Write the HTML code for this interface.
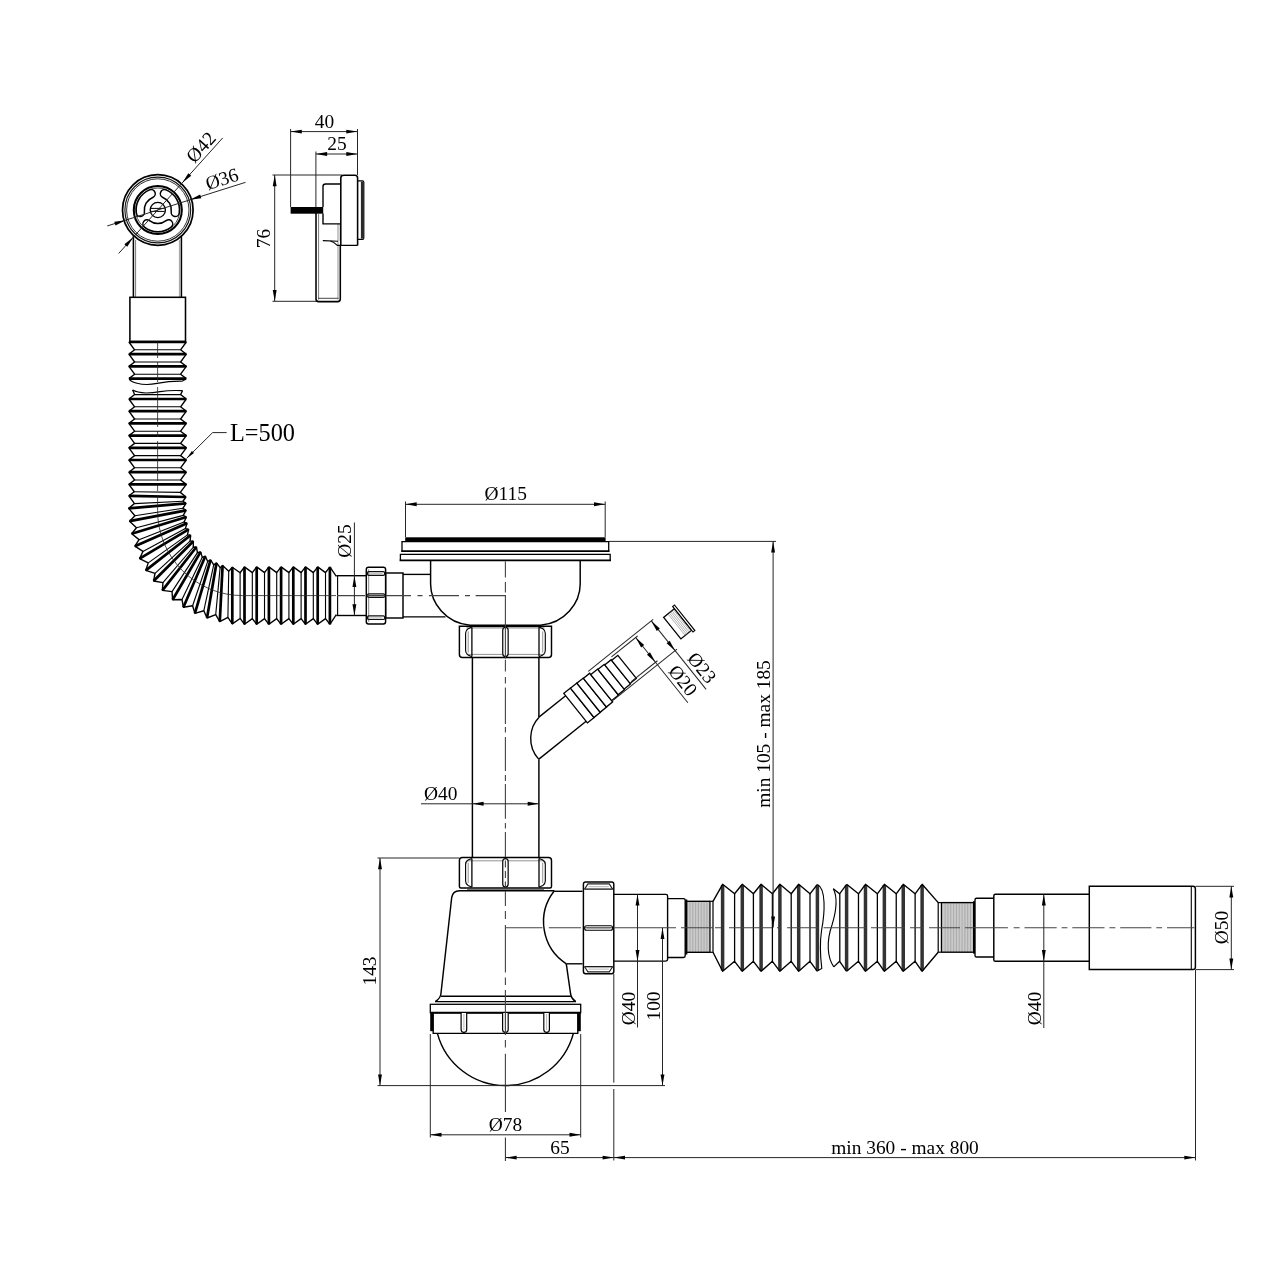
<!DOCTYPE html>
<html lang="en">
<head>
<meta charset="utf-8">
<title>Technical drawing</title>
<style>
html,body{margin:0;padding:0;background:#fff;}
body{width:1280px;height:1280px;overflow:hidden;}
svg{display:block;filter:grayscale(1);}
svg text{font-family:"Liberation Serif",serif;fill:#000;}
</style>
</head>
<body>
<svg width="1280" height="1280" viewBox="0 0 1280 1280">
<rect x="0" y="0" width="1280" height="1280" fill="#ffffff"/>
<line x1="133.4" y1="236" x2="133.4" y2="297.3" stroke="#000" stroke-width="1.55" />
<line x1="135.6" y1="240" x2="135.6" y2="297.3" stroke="#555" stroke-width="0.8" />
<line x1="179.4" y1="240" x2="179.4" y2="297.3" stroke="#888" stroke-width="0.8" />
<line x1="181.4" y1="236" x2="181.4" y2="297.3" stroke="#000" stroke-width="1.55" />
<circle cx="157.8" cy="210" r="35.3" stroke="#000" stroke-width="1.72" fill="#fff"/>
<circle cx="157.8" cy="210" r="32.9" stroke="#111" stroke-width="1.12" fill="none"/>
<circle cx="157.8" cy="210" r="31.2" stroke="#333" stroke-width="1" fill="none"/>
<circle cx="157.8" cy="210" r="24" stroke="#000" stroke-width="2.06" fill="none"/>
<circle cx="157.8" cy="210" r="22" stroke="#333" stroke-width="0.9" fill="none"/>
<path d="M175.23 212.45 A17.6 17.6 0 0 0 164.39 193.68" stroke="#000" stroke-width="9.6" fill="none" stroke-linecap="round"/>
<path d="M175.23 212.45 A17.6 17.6 0 0 0 164.39 193.68" stroke="#fff" stroke-width="6.6" fill="none" stroke-linecap="round"/>
<path d="M151.21 193.68 A17.6 17.6 0 0 0 140.37 212.45" stroke="#000" stroke-width="9.6" fill="none" stroke-linecap="round"/>
<path d="M151.21 193.68 A17.6 17.6 0 0 0 140.37 212.45" stroke="#fff" stroke-width="6.6" fill="none" stroke-linecap="round"/>
<path d="M146.96 223.87 A17.6 17.6 0 0 0 168.64 223.87" stroke="#000" stroke-width="9.6" fill="none" stroke-linecap="round"/>
<path d="M146.96 223.87 A17.6 17.6 0 0 0 168.64 223.87" stroke="#fff" stroke-width="6.6" fill="none" stroke-linecap="round"/>
<circle cx="157.8" cy="210" r="7.6" stroke="#000" stroke-width="1.38" fill="none"/>
<line x1="151" y1="208.4" x2="164.6" y2="208.4" stroke="#000" stroke-width="1" />
<line x1="151" y1="211.4" x2="164.6" y2="211.4" stroke="#000" stroke-width="1" />
<rect x="129.9" y="297.3" width="55.6" height="44.2" rx="0" stroke="#000" stroke-width="1.55" fill="#fff" />
<line x1="118.66" y1="253.47" x2="222.71" y2="137.91" stroke="#262626" stroke-width="1" />
<polygon points="182.29,182.8 188.34,173.17 191.23,175.78" fill="#000"/>
<polygon points="133.31,237.2 127.26,246.83 124.37,244.22" fill="#000"/>
<text x="205.72" y="151.55" font-size="19.4" text-anchor="middle" transform="rotate(-48 205.72 151.55)" >Ø42</text>
<line x1="107.25" y1="225.94" x2="245.54" y2="182.34" stroke="#262626" stroke-width="1" />
<polygon points="190.04,199.84 200.13,194.61 201.3,198.33" fill="#000"/>
<polygon points="125.56,220.16 115.47,225.39 114.3,221.67" fill="#000"/>
<text x="223.89" y="185.18" font-size="19.4" text-anchor="middle" transform="rotate(-17.5 223.89 185.18)" >Ø36</text>
<line x1="290.6" y1="129" x2="290.6" y2="207" stroke="#262626" stroke-width="1" />
<line x1="357.5" y1="129" x2="357.5" y2="175" stroke="#262626" stroke-width="1" />
<line x1="290.6" y1="131.6" x2="357.5" y2="131.6" stroke="#262626" stroke-width="1" />
<polygon points="290.6,131.6 301.8,129.65 301.8,133.55" fill="#000"/>
<polygon points="357.5,131.6 346.3,133.55 346.3,129.65" fill="#000"/>
<text x="324.5" y="127.5" font-size="19.4" text-anchor="middle" >40</text>
<line x1="315.9" y1="151.5" x2="315.9" y2="213" stroke="#262626" stroke-width="1" />
<line x1="315.9" y1="154" x2="357.5" y2="154" stroke="#262626" stroke-width="1" />
<polygon points="315.9,154 327.1,152.05 327.1,155.95" fill="#000"/>
<polygon points="357.5,154 346.3,155.95 346.3,152.05" fill="#000"/>
<text x="337" y="150" font-size="19.4" text-anchor="middle" >25</text>
<line x1="272.5" y1="175" x2="342" y2="175" stroke="#262626" stroke-width="1" />
<line x1="272.5" y1="301.3" x2="318" y2="301.3" stroke="#262626" stroke-width="1" />
<line x1="274.7" y1="175" x2="274.7" y2="301.3" stroke="#262626" stroke-width="1" />
<polygon points="274.7,175 276.65,186.2 272.75,186.2" fill="#000"/>
<polygon points="274.7,301.3 272.75,290.1 276.65,290.1" fill="#000"/>
<text x="270" y="238.5" font-size="19.4" text-anchor="middle" transform="rotate(-90 270 238.5)" >76</text>
<path d="M316 213 L316 299 Q316 301.6 318.6 301.6 L337.6 301.6 Q340.3 301.6 340.3 299 L340.3 245.6" stroke="#000" stroke-width="1.55" fill="none" />
<line x1="318.6" y1="214" x2="318.6" y2="299.5" stroke="#555" stroke-width="0.8" />
<line x1="338" y1="224" x2="338" y2="299.5" stroke="#777" stroke-width="0.8" />
<line x1="318" y1="298.3" x2="338.5" y2="298.3" stroke="#333" stroke-width="0.9" />
<rect x="290.6" y="207" width="32.6" height="6.7" rx="0" stroke="#000" stroke-width="0" fill="#000" />
<path d="M323 207 L323 186.5 Q323 184 325.5 184 L340.6 184" stroke="#000" stroke-width="1.38" fill="none" />
<path d="M323 213.5 L323 223.9 L340.3 223.9" stroke="#000" stroke-width="1.38" fill="none" />
<line x1="340.3" y1="224" x2="340.3" y2="241" stroke="#333" stroke-width="1" />
<path d="M322.8 240.6 L338 241.2" stroke="#000" stroke-width="1.12" fill="none" />
<path d="M330.5 241 Q334 242 337.3 245.4 L357.6 245.4" stroke="#000" stroke-width="1.2" fill="none" />
<path d="M340.8 245.4 L340.8 178 Q340.8 175.2 343.8 175.2 L355 175.2 Q357.6 175.2 357.6 178 L357.6 245.4" stroke="#000" stroke-width="1.55" fill="none" />
<path d="M357.6 180.8 L362.5 180.8 Q363.8 180.8 363.8 182.3 L363.8 238 Q363.8 239.4 362.5 239.4 L357.6 239.4" stroke="#000" stroke-width="1.2" fill="none" />
<line x1="362.3" y1="181.6" x2="362.3" y2="238.6" stroke="#2a2a2a" stroke-width="2.8" />
<line x1="128.9" y1="342" x2="186.3" y2="342" stroke="#000" stroke-width="2.7" />
<line x1="134.6" y1="349.81" x2="180.6" y2="349.81" stroke="#000" stroke-width="1.12" />
<line x1="128.9" y1="354.2" x2="186.3" y2="354.2" stroke="#000" stroke-width="2.7" />
<line x1="134.6" y1="362.01" x2="180.6" y2="362.01" stroke="#000" stroke-width="1.12" />
<line x1="128.9" y1="366.4" x2="186.3" y2="366.4" stroke="#000" stroke-width="2.7" />
<line x1="134.6" y1="374.21" x2="180.6" y2="374.21" stroke="#000" stroke-width="1.12" />
<line x1="128.9" y1="378.6" x2="186.3" y2="378.6" stroke="#000" stroke-width="2.7" />
<path d="M128.9 342 L134.6 349.81 L128.9 354.2 L134.6 362.01 L128.9 366.4 L134.6 374.21 L128.9 378.6" stroke="#000" stroke-width="1.38" fill="none" stroke-linejoin="round"/>
<path d="M186.3 342 L180.6 349.81 L186.3 354.2 L180.6 362.01 L186.3 366.4 L180.6 374.21 L186.3 378.6" stroke="#000" stroke-width="1.38" fill="none" stroke-linejoin="round"/>
<path d="M129.3 379.3 Q131 381.6 137 383.2 Q146 385.6 157 383.4 Q170 381 182 381.2 L185.8 379.2" stroke="#000" stroke-width="1.12" fill="none" />
<path d="M132.6 390 Q137 392.5 146 393 Q153 393 160 391.6 Q170 390 182.5 390.6" stroke="#000" stroke-width="1.12" fill="none" />
<path d="M132.6 390 L134.6 394.6 L128.9 399" stroke="#000" stroke-width="1.29" fill="none" />
<path d="M182.5 390.6 L180.6 394.6 L186.3 399" stroke="#000" stroke-width="1.29" fill="none" />
<line x1="134.6" y1="394.6" x2="180.6" y2="394.6" stroke="#000" stroke-width="1.1" />
<line x1="128.9" y1="399" x2="186.3" y2="399" stroke="#000" stroke-width="2.7" />
<line x1="134.6" y1="406.81" x2="180.6" y2="406.81" stroke="#000" stroke-width="1.12" />
<line x1="128.9" y1="411.2" x2="186.3" y2="411.2" stroke="#000" stroke-width="2.7" />
<line x1="134.6" y1="419.01" x2="180.6" y2="419.01" stroke="#000" stroke-width="1.12" />
<line x1="128.9" y1="423.4" x2="186.3" y2="423.4" stroke="#000" stroke-width="2.7" />
<line x1="134.6" y1="431.21" x2="180.6" y2="431.21" stroke="#000" stroke-width="1.12" />
<line x1="128.9" y1="435.6" x2="186.3" y2="435.6" stroke="#000" stroke-width="2.7" />
<line x1="134.6" y1="443.41" x2="180.6" y2="443.41" stroke="#000" stroke-width="1.12" />
<line x1="128.9" y1="447.8" x2="186.3" y2="447.8" stroke="#000" stroke-width="2.7" />
<line x1="134.6" y1="455.61" x2="180.6" y2="455.61" stroke="#000" stroke-width="1.12" />
<line x1="128.9" y1="460" x2="186.3" y2="460" stroke="#000" stroke-width="2.7" />
<line x1="134.6" y1="467.81" x2="180.6" y2="467.81" stroke="#000" stroke-width="1.12" />
<line x1="128.9" y1="472.2" x2="186.3" y2="472.2" stroke="#000" stroke-width="2.7" />
<line x1="134.6" y1="480.01" x2="180.6" y2="480.01" stroke="#000" stroke-width="1.12" />
<line x1="128.9" y1="484.4" x2="186.3" y2="484.4" stroke="#000" stroke-width="2.7" />
<line x1="134.26" y1="491.77" x2="180.34" y2="492.39" stroke="#000" stroke-width="1.12" />
<line x1="128.9" y1="495.8" x2="185.9" y2="497" stroke="#000" stroke-width="2.7" />
<line x1="134.47" y1="503.59" x2="182.96" y2="501.24" stroke="#000" stroke-width="1.12" />
<line x1="128.7" y1="508.4" x2="186" y2="503.4" stroke="#000" stroke-width="2.7" />
<line x1="134.91" y1="515.72" x2="182.86" y2="508.31" stroke="#000" stroke-width="1.12" />
<line x1="129.6" y1="521.2" x2="186.1" y2="510.3" stroke="#000" stroke-width="2.7" />
<line x1="136.45" y1="527.8" x2="183.25" y2="515.4" stroke="#000" stroke-width="1.12" />
<line x1="131.7" y1="533.8" x2="186.4" y2="517" stroke="#000" stroke-width="2.7" />
<line x1="139.06" y1="539.66" x2="184.06" y2="522.04" stroke="#000" stroke-width="1.12" />
<line x1="134.9" y1="546.2" x2="187" y2="523.2" stroke="#000" stroke-width="2.7" />
<line x1="142.93" y1="551.43" x2="185.37" y2="528.59" stroke="#000" stroke-width="1.12" />
<line x1="139.6" y1="558.6" x2="188.6" y2="529.4" stroke="#000" stroke-width="2.7" />
<line x1="148.21" y1="562.85" x2="187.49" y2="534.87" stroke="#000" stroke-width="1.12" />
<line x1="145.8" y1="570.4" x2="190.6" y2="535.3" stroke="#000" stroke-width="2.7" />
<line x1="154.99" y1="573.33" x2="190.08" y2="541.14" stroke="#000" stroke-width="1.12" />
<line x1="153.6" y1="581" x2="193.3" y2="541.2" stroke="#000" stroke-width="2.7" />
<line x1="162.94" y1="582.69" x2="193.27" y2="547.26" stroke="#000" stroke-width="1.12" />
<line x1="162.4" y1="590.4" x2="196.4" y2="547" stroke="#000" stroke-width="2.7" />
<line x1="172.04" y1="591.64" x2="197.43" y2="552.68" stroke="#000" stroke-width="1.12" />
<line x1="172.6" y1="599.8" x2="200.6" y2="551.9" stroke="#000" stroke-width="2.7" />
<line x1="181.99" y1="599.47" x2="202.31" y2="557.35" stroke="#000" stroke-width="1.12" />
<line x1="183.4" y1="607.3" x2="205.3" y2="556.2" stroke="#000" stroke-width="2.7" />
<line x1="192.6" y1="605.75" x2="207.71" y2="561.44" stroke="#000" stroke-width="1.12" />
<line x1="194.9" y1="613.3" x2="210.6" y2="559.9" stroke="#000" stroke-width="2.7" />
<line x1="203.84" y1="610.74" x2="213.72" y2="564.86" stroke="#000" stroke-width="1.12" />
<line x1="207" y1="618" x2="216.5" y2="562.9" stroke="#000" stroke-width="2.7" />
<line x1="215.72" y1="614.63" x2="220.11" y2="567.67" stroke="#000" stroke-width="1.12" />
<line x1="219.8" y1="621.6" x2="222.6" y2="565.5" stroke="#000" stroke-width="2.7" />
<line x1="227.9" y1="617.37" x2="228.73" y2="571.29" stroke="#000" stroke-width="1.12" />
<line x1="232.3" y1="623.9" x2="232.3" y2="567.3" stroke="#000" stroke-width="2.7" />
<line x1="240.11" y1="618.46" x2="240.11" y2="572.74" stroke="#000" stroke-width="1.12" />
<line x1="244.5" y1="624.3" x2="244.5" y2="566.9" stroke="#000" stroke-width="2.7" />
<line x1="252.31" y1="618.6" x2="252.31" y2="572.6" stroke="#000" stroke-width="1.12" />
<line x1="256.7" y1="624.3" x2="256.7" y2="566.9" stroke="#000" stroke-width="2.7" />
<line x1="264.51" y1="618.6" x2="264.51" y2="572.6" stroke="#000" stroke-width="1.12" />
<line x1="268.9" y1="624.3" x2="268.9" y2="566.9" stroke="#000" stroke-width="2.7" />
<line x1="276.71" y1="618.6" x2="276.71" y2="572.6" stroke="#000" stroke-width="1.12" />
<line x1="281.1" y1="624.3" x2="281.1" y2="566.9" stroke="#000" stroke-width="2.7" />
<line x1="288.91" y1="618.6" x2="288.91" y2="572.6" stroke="#000" stroke-width="1.12" />
<line x1="293.3" y1="624.3" x2="293.3" y2="566.9" stroke="#000" stroke-width="2.7" />
<line x1="301.11" y1="618.6" x2="301.11" y2="572.6" stroke="#000" stroke-width="1.12" />
<line x1="305.5" y1="624.3" x2="305.5" y2="566.9" stroke="#000" stroke-width="2.7" />
<line x1="313.31" y1="618.6" x2="313.31" y2="572.6" stroke="#000" stroke-width="1.12" />
<line x1="317.7" y1="624.3" x2="317.7" y2="566.9" stroke="#000" stroke-width="2.7" />
<line x1="325.51" y1="618.6" x2="325.51" y2="572.6" stroke="#000" stroke-width="1.12" />
<line x1="329.9" y1="624.3" x2="329.9" y2="566.9" stroke="#000" stroke-width="2.7" />
<path d="M128.9 399 L134.6 406.81 L128.9 411.2 L134.6 419.01 L128.9 423.4 L134.6 431.21 L128.9 435.6 L134.6 443.41 L128.9 447.8 L134.6 455.61 L128.9 460 L134.6 467.81 L128.9 472.2 L134.6 480.01 L128.9 484.4 L134.26 491.77 L128.9 495.8 L134.47 503.59 L128.7 508.4 L134.91 515.72 L129.6 521.2 L136.45 527.8 L131.7 533.8 L139.06 539.66 L134.9 546.2 L142.93 551.43 L139.6 558.6 L148.21 562.85 L145.8 570.4 L154.99 573.33 L153.6 581 L162.94 582.69 L162.4 590.4 L172.04 591.64 L172.6 599.8 L181.99 599.47 L183.4 607.3 L192.6 605.75 L194.9 613.3 L203.84 610.74 L207 618 L215.72 614.63 L219.8 621.6 L227.9 617.37 L232.3 623.9 L240.11 618.46 L244.5 624.3 L252.31 618.6 L256.7 624.3 L264.51 618.6 L268.9 624.3 L276.71 618.6 L281.1 624.3 L288.91 618.6 L293.3 624.3 L301.11 618.6 L305.5 624.3 L313.31 618.6 L317.7 624.3 L325.51 618.6 L329.9 624.3" stroke="#000" stroke-width="1.38" fill="none" stroke-linejoin="round"/>
<path d="M186.3 399 L180.6 406.81 L186.3 411.2 L180.6 419.01 L186.3 423.4 L180.6 431.21 L186.3 435.6 L180.6 443.41 L186.3 447.8 L180.6 455.61 L186.3 460 L180.6 467.81 L186.3 472.2 L180.6 480.01 L186.3 484.4 L180.34 492.39 L185.9 497 L182.96 501.24 L186 503.4 L182.86 508.31 L186.1 510.3 L183.25 515.4 L186.4 517 L184.06 522.04 L187 523.2 L185.37 528.59 L188.6 529.4 L187.49 534.87 L190.6 535.3 L190.08 541.14 L193.3 541.2 L193.27 547.26 L196.4 547 L197.43 552.68 L200.6 551.9 L202.31 557.35 L205.3 556.2 L207.71 561.44 L210.6 559.9 L213.72 564.86 L216.5 562.9 L220.11 567.67 L222.6 565.5 L228.73 571.29 L232.3 567.3 L240.11 572.74 L244.5 566.9 L252.31 572.6 L256.7 566.9 L264.51 572.6 L268.9 566.9 L276.71 572.6 L281.1 566.9 L288.91 572.6 L293.3 566.9 L301.11 572.6 L305.5 566.9 L313.31 572.6 L317.7 566.9 L325.51 572.6 L329.9 566.9" stroke="#000" stroke-width="1.38" fill="none" stroke-linejoin="round"/>
<path d="M329.9 566.9 L336.3 576.4" stroke="#000" stroke-width="1.29" fill="none" />
<path d="M329.9 624.3 L336.3 614.6" stroke="#000" stroke-width="1.29" fill="none" />
<line x1="157.6" y1="342" x2="157.6" y2="382" stroke="#222" stroke-width="0.8" stroke-dasharray="16 4 22 60"/>
<line x1="157.6" y1="387" x2="157.6" y2="510.6" stroke="#222" stroke-width="0.8" stroke-dasharray="40 4 6 4"/>
<path d="M157.6 510.6 A85.0 85.0 0 0 0 242.6 595.6" stroke="#222" stroke-width="0.8" fill="none" />
<line x1="242.6" y1="595.6" x2="336" y2="595.6" stroke="#222" stroke-width="0.8" />
<line x1="186.6" y1="458.4" x2="212.6" y2="432.6" stroke="#262626" stroke-width="1" />
<line x1="212.6" y1="432.6" x2="226.6" y2="432.6" stroke="#262626" stroke-width="1" />
<polygon points="186.6,458.4 191.9,450.98 194.02,453.1" fill="#000"/>
<text x="230" y="441" font-size="24.3" text-anchor="start" >L=500</text>
<rect x="405.2" y="537.3" width="200.4" height="4.5" fill="#000"/>
<path d="M402 551.2 L402 541.6 L608.7 541.6 L608.7 551.2" stroke="#000" stroke-width="1.29" fill="none" />
<line x1="401.2" y1="551.2" x2="609.5" y2="551.2" stroke="#000" stroke-width="1.72" />
<path d="M400.4 560.2 L400.4 554.3 L610.2 554.3 L610.2 560.2" stroke="#000" stroke-width="1.29" fill="none" />
<line x1="399.6" y1="560.3" x2="611" y2="560.3" stroke="#000" stroke-width="1.72" />
<path d="M430.6 560 L430.6 584 C430.6 603 446 623.4 470 625.2 L540.5 625.2 C564.8 623.4 580.2 603 580.2 584 L580.2 560" stroke="#000" stroke-width="1.46" fill="none" />
<line x1="403" y1="574.4" x2="430.6" y2="574.4" stroke="#000" stroke-width="1.38" />
<line x1="403" y1="616.9" x2="445.5" y2="616.9" stroke="#000" stroke-width="1.38" />
<rect x="385.6" y="573" width="17.4" height="45" rx="0" stroke="#000" stroke-width="1.46" fill="none" />
<rect x="366.3" y="567.3" width="19.3" height="56.6" rx="2.2" stroke="#000" stroke-width="1.46" fill="#fff" />
<line x1="368.7" y1="569.3" x2="368.7" y2="621.9" stroke="#666" stroke-width="0.8" />
<rect x="367.5" y="571.7" width="17.1" height="3.6" rx="1.3" stroke="#111" stroke-width="1.2" fill="none" />
<line x1="369.3" y1="573.8" x2="382.6" y2="573.8" stroke="#888" stroke-width="0.7" />
<rect x="367.5" y="593.9" width="17.1" height="3.4" rx="1.3" stroke="#111" stroke-width="1.2" fill="none" />
<line x1="369.3" y1="595.9" x2="382.6" y2="595.9" stroke="#888" stroke-width="0.7" />
<rect x="367.5" y="615.9" width="17.1" height="3.6" rx="1.3" stroke="#111" stroke-width="1.2" fill="none" />
<line x1="369.3" y1="618" x2="382.6" y2="618" stroke="#888" stroke-width="0.7" />
<line x1="336.3" y1="575.7" x2="366.3" y2="575.7" stroke="#000" stroke-width="1.38" />
<line x1="336.3" y1="615.5" x2="366.3" y2="615.5" stroke="#000" stroke-width="1.38" />
<line x1="337.6" y1="575.7" x2="337.6" y2="615.5" stroke="#000" stroke-width="1.12" />
<path d="M459.4 626.3 L459.4 654.6 Q459.4 657.6 462.4 657.6 L548.5 657.6 Q551.5 657.6 551.5 654.6 L551.5 626.3 Z" stroke="#000" stroke-width="1.46" fill="#fff" />
<line x1="466.4" y1="654.4" x2="544.5" y2="654.4" stroke="#777" stroke-width="0.8" />
<line x1="466.4" y1="627.9" x2="544.5" y2="627.9" stroke="#555" stroke-width="0.8" />
<path d="M471.9 627.1 L468.1 628.8 Q465.6 630.3 465.6 633.3 L465.6 650.6 Q465.6 653.6 468.1 655.1 L471.9 656.8" stroke="#000" stroke-width="1.12" fill="none" />
<line x1="468.2" y1="631.3" x2="468.2" y2="652.6" stroke="#777" stroke-width="0.8" />
<line x1="471.9" y1="627.3" x2="471.9" y2="656.6" stroke="#000" stroke-width="1.29" />
<path d="M539 627.1 L542.8 628.8 Q545.3 630.3 545.3 633.3 L545.3 650.6 Q545.3 653.6 542.8 655.1 L539 656.8" stroke="#000" stroke-width="1.12" fill="none" />
<line x1="542.7" y1="631.3" x2="542.7" y2="652.6" stroke="#777" stroke-width="0.8" />
<line x1="539" y1="627.3" x2="539" y2="656.6" stroke="#000" stroke-width="1.29" />
<path d="M502.75 630.3 Q502.75 627.3 505.45 627.3 Q508.15 627.3 508.15 630.3 L508.15 653.6 Q508.15 656.6 505.45 656.6 Q502.75 656.6 502.75 653.6 Z" stroke="#000" stroke-width="1.2" fill="#fff" />
<line x1="472.4" y1="657.6" x2="472.4" y2="858" stroke="#000" stroke-width="1.46" />
<line x1="538.9" y1="657.6" x2="538.9" y2="717.4" stroke="#000" stroke-width="1.46" />
<line x1="538.9" y1="759.4" x2="538.9" y2="858" stroke="#000" stroke-width="1.46" />
<g transform="translate(538.9 737.5) rotate(-38.7)">
<line x1="12.74" y1="-15.9" x2="47" y2="-15.9" stroke="#000" stroke-width="1.38" />
<line x1="-13.54" y1="16.9" x2="47" y2="16.9" stroke="#000" stroke-width="1.38" />
<rect x="47" y="-18.9" width="8.5" height="37.8" rx="0" stroke="#000" stroke-width="1.29" fill="#fff" />
<rect x="55.5" y="-18.8" width="8.1" height="37.6" rx="0" stroke="#000" stroke-width="1.29" fill="#fff" />
<rect x="63.6" y="-18.6" width="8.1" height="37.2" rx="0" stroke="#000" stroke-width="1.29" fill="#fff" />
<rect x="71.7" y="-18.4" width="8.1" height="36.8" rx="0" stroke="#000" stroke-width="1.29" fill="#fff" />
<rect x="79.8" y="-16.7" width="8.8" height="33.4" rx="0" stroke="#000" stroke-width="1.29" fill="#fff" />
<rect x="88.6" y="-16.2" width="8.2" height="32.4" rx="0" stroke="#000" stroke-width="1.29" fill="#fff" />
<rect x="96.8" y="-15.5" width="8.2" height="31" rx="0" stroke="#000" stroke-width="1.29" fill="#fff" />
<rect x="105" y="-14.8" width="8" height="29.6" rx="0" stroke="#000" stroke-width="1.29" fill="#fff" />
<line x1="79.8" y1="-20.7" x2="163" y2="-20.7" stroke="#262626" stroke-width="1" />
<line x1="81" y1="17.4" x2="163" y2="17.4" stroke="#262626" stroke-width="1" />
<line x1="160.6" y1="-20.7" x2="160.6" y2="67" stroke="#262626" stroke-width="1" />
<polygon points="160.6,-20.7 162.55,-9.5 158.65,-9.5" fill="#000"/>
<polygon points="160.6,17.4 158.65,6.2 162.55,6.2" fill="#000"/>
<line x1="107" y1="-17.5" x2="140.5" y2="-17.5" stroke="#262626" stroke-width="1" />
<line x1="107" y1="14.2" x2="140.5" y2="14.2" stroke="#262626" stroke-width="1" />
<line x1="138" y1="-17.5" x2="138" y2="66" stroke="#262626" stroke-width="1" />
<polygon points="138,-17.5 139.95,-6.3 136.05,-6.3" fill="#000"/>
<polygon points="138,14.2 136.05,3 139.95,3" fill="#000"/>
<rect x="172.5" y="-15.8" width="13.8" height="27.6" rx="0" stroke="#000" stroke-width="1.29" fill="#fff" />
<line x1="178" y1="-15.8" x2="178" y2="11.8" stroke="#888" stroke-width="0.6" />
<line x1="179.7" y1="-15.8" x2="179.7" y2="11.8" stroke="#888" stroke-width="0.6" />
<line x1="181.4" y1="-15.8" x2="181.4" y2="11.8" stroke="#888" stroke-width="0.6" />
<line x1="183.1" y1="-15.8" x2="183.1" y2="11.8" stroke="#888" stroke-width="0.6" />
<line x1="184.8" y1="-15.8" x2="184.8" y2="11.8" stroke="#888" stroke-width="0.6" />
<rect x="186.3" y="-18.6" width="2.3" height="32.6" rx="0" stroke="#000" stroke-width="1.12" fill="#fff" />
</g>
<path d="M538.9 717.4 C529.5 727 526.5 746 538.9 759.4" stroke="#000" stroke-width="1.38" fill="none" />
<text x="696.82" y="671.84" font-size="19.4" text-anchor="middle" transform="rotate(51.3 696.82 671.84)" >Ø23</text>
<text x="677.86" y="684.48" font-size="19.4" text-anchor="middle" transform="rotate(51.3 677.86 684.48)" >Ø20</text>
<path d="M459.4 860.6 Q459.4 857.6 462.4 857.6 L548.5 857.6 Q551.5 857.6 551.5 860.6 L551.5 886.5 Q551.5 888 550 888 L460.9 888 Q459.4 888 459.4 886.5 Z" stroke="#000" stroke-width="1.46" fill="#fff" />
<line x1="466.4" y1="860.8" x2="544.5" y2="860.8" stroke="#777" stroke-width="0.8" />
<path d="M471.9 858.4 L468.1 860.1 Q465.6 861.6 465.6 864.6 L465.6 881 Q465.6 884 468.1 885.5 L471.9 887.2" stroke="#000" stroke-width="1.12" fill="none" />
<line x1="468.2" y1="862.6" x2="468.2" y2="883" stroke="#777" stroke-width="0.8" />
<line x1="471.9" y1="858.6" x2="471.9" y2="887" stroke="#000" stroke-width="1.29" />
<path d="M539 858.4 L542.8 860.1 Q545.3 861.6 545.3 864.6 L545.3 881 Q545.3 884 542.8 885.5 L539 887.2" stroke="#000" stroke-width="1.12" fill="none" />
<line x1="542.7" y1="862.6" x2="542.7" y2="883" stroke="#777" stroke-width="0.8" />
<line x1="539" y1="858.6" x2="539" y2="887" stroke="#000" stroke-width="1.29" />
<path d="M502.75 861.6 Q502.75 858.6 505.45 858.6 Q508.15 858.6 508.15 861.6 L508.15 884 Q508.15 887 505.45 887 Q502.75 887 502.75 884 Z" stroke="#000" stroke-width="1.2" fill="#fff" />
<path d="M554.4 890.8 L459.5 890.8 Q452.9 890.8 451.7 897.5 L440.9 994 Q440.2 998.6 435.2 1001.6" stroke="#000" stroke-width="1.46" fill="none" />
<line x1="467" y1="889.4" x2="544" y2="889.4" stroke="#444" stroke-width="0.8" />
<path d="M554.4 890.8 A50 50 0 0 0 566.3 963.8" stroke="#000" stroke-width="1.46" fill="none" />
<path d="M566.3 963.8 L570.6 994 Q571.4 998.6 575.8 1001.6" stroke="#000" stroke-width="1.46" fill="none" />
<line x1="554.4" y1="891.3" x2="582.5" y2="891.3" stroke="#000" stroke-width="1.38" />
<line x1="566.3" y1="963.8" x2="582.5" y2="963.8" stroke="#000" stroke-width="1.38" />
<line x1="440.9" y1="996.3" x2="570.8" y2="996.3" stroke="#000" stroke-width="1.38" />
<line x1="435.2" y1="1001.6" x2="575.8" y2="1001.6" stroke="#000" stroke-width="1.29" />
<rect x="430.3" y="1004.3" width="150.4" height="8.4" rx="0" stroke="#000" stroke-width="1.29" fill="none" />
<path d="M433.2 1012.7 L433.2 1033.4 L577.8 1033.4 L577.8 1012.7" stroke="#000" stroke-width="1.38" fill="none" />
<line x1="431.7" y1="1012.7" x2="431.7" y2="1031.2" stroke="#000" stroke-width="3" />
<line x1="579.3" y1="1012.7" x2="579.3" y2="1031.2" stroke="#000" stroke-width="3" />
<line x1="430.3" y1="1012.7" x2="580.7" y2="1012.7" stroke="#000" stroke-width="1.89" />
<path d="M461.1 1013 L461.1 1029.6 Q461.1 1032.4 463.9 1032.4 Q466.7 1032.4 466.7 1029.6 L466.7 1013" stroke="#000" stroke-width="1.2" fill="#fff" />
<line x1="463.9" y1="1014" x2="463.9" y2="1030" stroke="#999" stroke-width="0.7" />
<path d="M502.6 1013 L502.6 1029.6 Q502.6 1032.4 505.4 1032.4 Q508.2 1032.4 508.2 1029.6 L508.2 1013" stroke="#000" stroke-width="1.2" fill="#fff" />
<line x1="505.4" y1="1014" x2="505.4" y2="1030" stroke="#999" stroke-width="0.7" />
<path d="M543.8 1013 L543.8 1029.6 Q543.8 1032.4 546.6 1032.4 Q549.4 1032.4 549.4 1029.6 L549.4 1013" stroke="#000" stroke-width="1.2" fill="#fff" />
<line x1="546.6" y1="1014" x2="546.6" y2="1030" stroke="#999" stroke-width="0.7" />
<path d="M437.4 1033.4 A70.4 70.4 0 0 0 573.4 1033.4" stroke="#000" stroke-width="1.46" fill="none" />
<rect x="583.4" y="882.1" width="30.4" height="91.6" rx="2.2" stroke="#000" stroke-width="1.46" fill="#fff" />
<path d="M584.4 889.1 L612.8 889.1" stroke="#000" stroke-width="1.2" fill="none" />
<path d="M584.6 889.1 L587.9 883.9 L609.3 883.9 L612.6 889.1" stroke="#222" stroke-width="1.1" fill="none" />
<line x1="588.4" y1="886.7" x2="608.8" y2="886.7" stroke="#999" stroke-width="0.7" />
<path d="M584.4 966.7 L612.8 966.7" stroke="#000" stroke-width="1.2" fill="none" />
<path d="M584.6 966.7 L587.9 971.9 L609.3 971.9 L612.6 966.7" stroke="#222" stroke-width="1.1" fill="none" />
<line x1="588.4" y1="969.1" x2="608.8" y2="969.1" stroke="#999" stroke-width="0.7" />
<rect x="584.6" y="925.7" width="28" height="4.6" rx="2" stroke="#000" stroke-width="1.12" fill="none" />
<line x1="586.9" y1="928.1" x2="610.3" y2="928.1" stroke="#999" stroke-width="0.8" />
<path d="M613.7 894.4 L665.8 894.4 Q667.6 894.4 667.6 896.2 L667.6 959.3 Q667.6 961.1 665.8 961.1 L613.7 961.1" stroke="#000" stroke-width="1.38" fill="none" />
<path d="M667.6 898.6 L683.5 898.6 Q685.2 898.6 685.2 900.3 L685.2 955.8 Q685.2 957.5 683.5 957.5 L667.6 957.5" stroke="#000" stroke-width="1.38" fill="none" />
<rect x="686.5" y="901.3" width="23.5" height="51" rx="0" stroke="none" stroke-width="0" fill="#e4e4e4" />
<line x1="687.7" y1="901.3" x2="687.7" y2="952.3" stroke="#7a7a7a" stroke-width="0.55" />
<line x1="689.25" y1="901.3" x2="689.25" y2="952.3" stroke="#7a7a7a" stroke-width="0.55" />
<line x1="690.8" y1="901.3" x2="690.8" y2="952.3" stroke="#7a7a7a" stroke-width="0.55" />
<line x1="692.35" y1="901.3" x2="692.35" y2="952.3" stroke="#7a7a7a" stroke-width="0.55" />
<line x1="693.9" y1="901.3" x2="693.9" y2="952.3" stroke="#7a7a7a" stroke-width="0.55" />
<line x1="695.45" y1="901.3" x2="695.45" y2="952.3" stroke="#7a7a7a" stroke-width="0.55" />
<line x1="697" y1="901.3" x2="697" y2="952.3" stroke="#7a7a7a" stroke-width="0.55" />
<line x1="698.55" y1="901.3" x2="698.55" y2="952.3" stroke="#7a7a7a" stroke-width="0.55" />
<line x1="700.1" y1="901.3" x2="700.1" y2="952.3" stroke="#7a7a7a" stroke-width="0.55" />
<line x1="701.65" y1="901.3" x2="701.65" y2="952.3" stroke="#7a7a7a" stroke-width="0.55" />
<line x1="703.2" y1="901.3" x2="703.2" y2="952.3" stroke="#7a7a7a" stroke-width="0.55" />
<line x1="704.75" y1="901.3" x2="704.75" y2="952.3" stroke="#7a7a7a" stroke-width="0.55" />
<line x1="706.3" y1="901.3" x2="706.3" y2="952.3" stroke="#7a7a7a" stroke-width="0.55" />
<line x1="707.85" y1="901.3" x2="707.85" y2="952.3" stroke="#7a7a7a" stroke-width="0.55" />
<line x1="709.4" y1="901.3" x2="709.4" y2="952.3" stroke="#7a7a7a" stroke-width="0.55" />
<line x1="686.5" y1="901.3" x2="710" y2="901.3" stroke="#000" stroke-width="1.38" />
<line x1="686.5" y1="952.3" x2="710" y2="952.3" stroke="#000" stroke-width="1.38" />
<line x1="686.3" y1="899.5" x2="686.3" y2="954.5" stroke="#000" stroke-width="2.06" />
<rect x="710" y="901.3" width="3" height="51" rx="0" stroke="#000" stroke-width="1.2" fill="#fff" />
<line x1="722.6" y1="885.1" x2="722.6" y2="970.5" stroke="#333" stroke-width="3.5" />
<line x1="734.6" y1="893.8" x2="734.6" y2="961.3" stroke="#000" stroke-width="1.29" />
<line x1="742.3" y1="885.1" x2="742.3" y2="970.5" stroke="#333" stroke-width="3.5" />
<line x1="753.4" y1="893.8" x2="753.4" y2="961.3" stroke="#000" stroke-width="1.29" />
<line x1="761.1" y1="885.1" x2="761.1" y2="970.5" stroke="#333" stroke-width="3.5" />
<line x1="772.4" y1="893.8" x2="772.4" y2="961.3" stroke="#000" stroke-width="1.29" />
<line x1="779.9" y1="885.1" x2="779.9" y2="970.5" stroke="#333" stroke-width="3.5" />
<line x1="791.2" y1="893.8" x2="791.2" y2="961.3" stroke="#000" stroke-width="1.29" />
<line x1="798.7" y1="885.1" x2="798.7" y2="970.5" stroke="#333" stroke-width="3.5" />
<line x1="810" y1="893.8" x2="810" y2="961.3" stroke="#000" stroke-width="1.29" />
<line x1="817.4" y1="885.1" x2="817.4" y2="970.5" stroke="#333" stroke-width="3.5" />
<path d="M713 901.3 L722.6 884.3 L734.6 893.8 L742.3 884.3 L753.4 893.8 L761.1 884.3 L772.4 893.8 L779.9 884.3 L791.2 893.8 L798.7 884.3 L810 893.8 L817.4 884.3" stroke="#000" stroke-width="1.38" fill="none" stroke-linejoin="round"/>
<path d="M713 952.3 L722.6 971.3 L734.6 961.3 L742.3 971.3 L753.4 961.3 L761.1 971.3 L772.4 961.3 L779.9 971.3 L791.2 961.3 L798.7 971.3 L810 961.3 L817.4 971.3" stroke="#000" stroke-width="1.38" fill="none" stroke-linejoin="round"/>
<line x1="846.6" y1="885.1" x2="846.6" y2="970.5" stroke="#333" stroke-width="3.5" />
<line x1="858.48" y1="893.8" x2="858.48" y2="961.3" stroke="#000" stroke-width="1.29" />
<line x1="865.48" y1="885.1" x2="865.48" y2="970.5" stroke="#333" stroke-width="3.5" />
<line x1="877.36" y1="893.8" x2="877.36" y2="961.3" stroke="#000" stroke-width="1.29" />
<line x1="884.36" y1="885.1" x2="884.36" y2="970.5" stroke="#333" stroke-width="3.5" />
<line x1="896.24" y1="893.8" x2="896.24" y2="961.3" stroke="#000" stroke-width="1.29" />
<line x1="903.24" y1="885.1" x2="903.24" y2="970.5" stroke="#333" stroke-width="3.5" />
<line x1="915.12" y1="893.8" x2="915.12" y2="961.3" stroke="#000" stroke-width="1.29" />
<line x1="922.12" y1="885.1" x2="922.12" y2="970.5" stroke="#333" stroke-width="3.5" />
<path d="M846.6 884.3 L858.48 893.8 L865.48 884.3 L877.36 893.8 L884.36 884.3 L896.24 893.8 L903.24 884.3 L915.12 893.8 L922.12 884.3 L938.2 902.6" stroke="#000" stroke-width="1.38" fill="none" stroke-linejoin="round"/>
<path d="M846.6 971.3 L858.48 961.3 L865.48 971.3 L877.36 961.3 L884.36 971.3 L896.24 961.3 L903.24 971.3 L915.12 961.3 L922.12 971.3 L938.2 952.2" stroke="#000" stroke-width="1.38" fill="none" stroke-linejoin="round"/>
<path d="M833.3 888.8 L839.6 893.8 L846.6 884.3" stroke="#000" stroke-width="1.29" fill="none" />
<path d="M833.8 966.9 L839.6 961.3 L846.6 971.3" stroke="#000" stroke-width="1.29" fill="none" />
<line x1="839.8" y1="893.8" x2="839.8" y2="961.3" stroke="#000" stroke-width="1.29" />
<path d="M817.5 884.6 C826 889 825 912 821.6 930 C819.5 944 820.5 958 821.8 968.5 L817.2 971" stroke="#000" stroke-width="1.12" fill="none" />
<path d="M833.3 888.8 C838 898 836 912 832 925 C826 942 827.5 958 833.8 966.9" stroke="#000" stroke-width="1.12" fill="none" />
<rect x="941.4" y="902.6" width="31.6" height="49.6" rx="0" stroke="none" stroke-width="0" fill="#e4e4e4" />
<line x1="942.6" y1="902.6" x2="942.6" y2="952.2" stroke="#7a7a7a" stroke-width="0.55" />
<line x1="944.15" y1="902.6" x2="944.15" y2="952.2" stroke="#7a7a7a" stroke-width="0.55" />
<line x1="945.7" y1="902.6" x2="945.7" y2="952.2" stroke="#7a7a7a" stroke-width="0.55" />
<line x1="947.25" y1="902.6" x2="947.25" y2="952.2" stroke="#7a7a7a" stroke-width="0.55" />
<line x1="948.8" y1="902.6" x2="948.8" y2="952.2" stroke="#7a7a7a" stroke-width="0.55" />
<line x1="950.35" y1="902.6" x2="950.35" y2="952.2" stroke="#7a7a7a" stroke-width="0.55" />
<line x1="951.9" y1="902.6" x2="951.9" y2="952.2" stroke="#7a7a7a" stroke-width="0.55" />
<line x1="953.45" y1="902.6" x2="953.45" y2="952.2" stroke="#7a7a7a" stroke-width="0.55" />
<line x1="955" y1="902.6" x2="955" y2="952.2" stroke="#7a7a7a" stroke-width="0.55" />
<line x1="956.55" y1="902.6" x2="956.55" y2="952.2" stroke="#7a7a7a" stroke-width="0.55" />
<line x1="958.1" y1="902.6" x2="958.1" y2="952.2" stroke="#7a7a7a" stroke-width="0.55" />
<line x1="959.65" y1="902.6" x2="959.65" y2="952.2" stroke="#7a7a7a" stroke-width="0.55" />
<line x1="961.2" y1="902.6" x2="961.2" y2="952.2" stroke="#7a7a7a" stroke-width="0.55" />
<line x1="962.75" y1="902.6" x2="962.75" y2="952.2" stroke="#7a7a7a" stroke-width="0.55" />
<line x1="964.3" y1="902.6" x2="964.3" y2="952.2" stroke="#7a7a7a" stroke-width="0.55" />
<line x1="965.85" y1="902.6" x2="965.85" y2="952.2" stroke="#7a7a7a" stroke-width="0.55" />
<line x1="967.4" y1="902.6" x2="967.4" y2="952.2" stroke="#7a7a7a" stroke-width="0.55" />
<line x1="968.95" y1="902.6" x2="968.95" y2="952.2" stroke="#7a7a7a" stroke-width="0.55" />
<line x1="970.5" y1="902.6" x2="970.5" y2="952.2" stroke="#7a7a7a" stroke-width="0.55" />
<line x1="972.05" y1="902.6" x2="972.05" y2="952.2" stroke="#7a7a7a" stroke-width="0.55" />
<line x1="941.4" y1="902.6" x2="973" y2="902.6" stroke="#000" stroke-width="1.38" />
<line x1="941.4" y1="952.2" x2="973" y2="952.2" stroke="#000" stroke-width="1.38" />
<rect x="938.2" y="902.6" width="3.2" height="49.6" rx="0" stroke="#000" stroke-width="1.2" fill="#fff" />
<line x1="974" y1="901.2" x2="974" y2="953.6" stroke="#000" stroke-width="2.06" />
<path d="M993.8 898.2 L976.6 898.2 Q975 898.2 975 899.8 L975 955.4 Q975 957 976.6 957 L993.8 957" stroke="#000" stroke-width="1.38" fill="none" />
<path d="M1089.3 894.3 L995.4 894.3 Q993.8 894.3 993.8 895.9 L993.8 959.7 Q993.8 961.3 995.4 961.3 L1089.3 961.3" stroke="#000" stroke-width="1.46" fill="none" />
<path d="M1089.3 886.3 L1193 886.3 Q1195.4 886.3 1195.4 889 L1195.4 967 Q1195.4 969.6 1193 969.6 L1089.3 969.6 Z" stroke="#000" stroke-width="1.46" fill="none" />
<line x1="1191.3" y1="887" x2="1191.3" y2="969" stroke="#000" stroke-width="1.1" />
<path d="M505.4 561.3V577.5 M505.4 582V592.5 M505.4 595V658.8 M505.4 659.8V671.5 M505.4 677V683.5 M505.4 687.5V724 M505.4 727V732.5 M505.4 737V771 M505.4 775V781 M505.4 784V818.8 M505.4 823V828.5 M505.4 832V857 M505.4 860.5V867.5 M505.4 871V878 M505.4 881.5V886.5 M505.4 891V906 M505.4 911V919 M505.4 925V972.5 M505.4 977.5V985 M505.4 990V1035 M505.4 1040V1047.5 M505.4 1053.8V1086" stroke="#444" stroke-width="1.1" fill="none" />
<line x1="505.4" y1="1086" x2="505.4" y2="1112" stroke="#262626" stroke-width="1" />
<line x1="505.4" y1="1137.5" x2="505.4" y2="1161" stroke="#262626" stroke-width="1" />
<path d="M337 595.6H365 M367 595.6H385 M386 595.6H411 M417.5 595.6H422.5 M429 595.6H459 M465 595.6H470 M475.6 595.6H505.4" stroke="#444" stroke-width="1.1" fill="none" />
<path d="M505.4 927.8H542.5 M548.8 927.8H581 M585 927.8H612 M614.4 927.8H676 M681 927.8H713 M715 927.8H721 M729 927.8H772 M777 927.8H781 M787 927.8H818.5 M823.6 927.8H866 M871 927.8H905 M910 927.8H923 M929 927.8H960 M965 927.8H1007.9 M1013.7 927.8H1019.6 M1024.5 927.8H1056.7 M1061.6 927.8H1067.4 M1072.3 927.8H1104.5 M1109.4 927.8H1115.3 M1120.2 927.8H1151.4 M1156.3 927.8H1162.1 M1167 927.8H1194.4" stroke="#444" stroke-width="1.1" fill="none" />
<line x1="405.5" y1="501.5" x2="405.5" y2="537" stroke="#262626" stroke-width="1" />
<line x1="605.2" y1="501.5" x2="605.2" y2="537" stroke="#262626" stroke-width="1" />
<line x1="405.5" y1="504.3" x2="605.2" y2="504.3" stroke="#262626" stroke-width="1" />
<polygon points="405.5,504.3 416.7,502.35 416.7,506.25" fill="#000"/>
<polygon points="605.2,504.3 594,506.25 594,502.35" fill="#000"/>
<text x="505.7" y="500" font-size="19.4" text-anchor="middle" >Ø115</text>
<line x1="354.4" y1="522.5" x2="354.4" y2="615.5" stroke="#262626" stroke-width="1" />
<polygon points="354.4,575.7 356.35,586.9 352.45,586.9" fill="#000"/>
<polygon points="354.4,615.5 352.45,604.3 356.35,604.3" fill="#000"/>
<text x="351" y="541" font-size="19.4" text-anchor="middle" transform="rotate(-90 351 541)" >Ø25</text>
<line x1="609" y1="541.4" x2="776" y2="541.4" stroke="#262626" stroke-width="1" />
<line x1="773.1" y1="541.4" x2="773.1" y2="927.6" stroke="#262626" stroke-width="1" />
<polygon points="773.1,541.4 775.05,552.6 771.15,552.6" fill="#000"/>
<polygon points="773.1,927.6 771.15,916.4 775.05,916.4" fill="#000"/>
<text x="769.5" y="734" font-size="19.4" text-anchor="middle" transform="rotate(-90 769.5 734)" >min 105 - max 185</text>
<line x1="421" y1="803.8" x2="538.9" y2="803.8" stroke="#262626" stroke-width="1" />
<polygon points="472.4,803.8 483.6,801.85 483.6,805.75" fill="#000"/>
<polygon points="538.9,803.8 527.7,805.75 527.7,801.85" fill="#000"/>
<text x="440.7" y="799.6" font-size="19.4" text-anchor="middle" >Ø40</text>
<line x1="377.5" y1="858" x2="459.4" y2="858" stroke="#262626" stroke-width="1" />
<line x1="377.5" y1="1085.6" x2="665" y2="1085.6" stroke="#262626" stroke-width="1" />
<line x1="380" y1="858" x2="380" y2="1085.6" stroke="#262626" stroke-width="1" />
<polygon points="380,858 381.95,869.2 378.05,869.2" fill="#000"/>
<polygon points="380,1085.6 378.05,1074.4 381.95,1074.4" fill="#000"/>
<text x="375.5" y="971" font-size="19.4" text-anchor="middle" transform="rotate(-90 375.5 971)" >143</text>
<line x1="430.3" y1="1034" x2="430.3" y2="1137.5" stroke="#262626" stroke-width="1" />
<line x1="580.7" y1="1034" x2="580.7" y2="1137.5" stroke="#262626" stroke-width="1" />
<line x1="430.3" y1="1134.8" x2="580.7" y2="1134.8" stroke="#262626" stroke-width="1" />
<polygon points="430.3,1134.8 441.5,1132.85 441.5,1136.75" fill="#000"/>
<polygon points="580.7,1134.8 569.5,1136.75 569.5,1132.85" fill="#000"/>
<text x="505.4" y="1130.6" font-size="19.4" text-anchor="middle" >Ø78</text>
<line x1="613.8" y1="974" x2="613.8" y2="1082.6" stroke="#262626" stroke-width="1" />
<line x1="613.8" y1="1089" x2="613.8" y2="1160.5" stroke="#262626" stroke-width="1" />
<line x1="1195.5" y1="970" x2="1195.5" y2="1160.5" stroke="#262626" stroke-width="1" />
<line x1="505.4" y1="1157.6" x2="613.8" y2="1157.6" stroke="#262626" stroke-width="1" />
<polygon points="505.4,1157.6 516.6,1155.65 516.6,1159.55" fill="#000"/>
<polygon points="613.8,1157.6 602.6,1159.55 602.6,1155.65" fill="#000"/>
<text x="560" y="1153.8" font-size="19.4" text-anchor="middle" >65</text>
<line x1="613.8" y1="1157.6" x2="1195.5" y2="1157.6" stroke="#262626" stroke-width="1" />
<polygon points="613.8,1157.6 625,1155.65 625,1159.55" fill="#000"/>
<polygon points="1195.5,1157.6 1184.3,1159.55 1184.3,1155.65" fill="#000"/>
<text x="905" y="1154" font-size="19.4" text-anchor="middle" >min 360 - max 800</text>
<line x1="637.5" y1="894.4" x2="637.5" y2="1027.5" stroke="#262626" stroke-width="1" />
<polygon points="637.5,894.4 639.45,905.6 635.55,905.6" fill="#000"/>
<polygon points="637.5,961.2 635.55,950 639.45,950" fill="#000"/>
<text x="634.5" y="1008.5" font-size="19.4" text-anchor="middle" transform="rotate(-90 634.5 1008.5)" >Ø40</text>
<line x1="662.5" y1="927.8" x2="662.5" y2="1085.6" stroke="#262626" stroke-width="1" />
<polygon points="662.5,927.8 664.45,939 660.55,939" fill="#000"/>
<polygon points="662.5,1085.6 660.55,1074.4 664.45,1074.4" fill="#000"/>
<text x="659.5" y="1006" font-size="19.4" text-anchor="middle" transform="rotate(-90 659.5 1006)" >100</text>
<line x1="1043.8" y1="894.4" x2="1043.8" y2="1028" stroke="#262626" stroke-width="1" />
<polygon points="1043.8,894.4 1045.75,905.6 1041.85,905.6" fill="#000"/>
<polygon points="1043.8,961.2 1041.85,950 1045.75,950" fill="#000"/>
<text x="1040.8" y="1008.5" font-size="19.4" text-anchor="middle" transform="rotate(-90 1040.8 1008.5)" >Ø40</text>
<line x1="1195.5" y1="886.3" x2="1234" y2="886.3" stroke="#262626" stroke-width="1" />
<line x1="1195.5" y1="969.6" x2="1234" y2="969.6" stroke="#262626" stroke-width="1" />
<line x1="1231.3" y1="886.3" x2="1231.3" y2="969.6" stroke="#262626" stroke-width="1" />
<polygon points="1231.3,886.3 1233.25,897.5 1229.35,897.5" fill="#000"/>
<polygon points="1231.3,969.6 1229.35,958.4 1233.25,958.4" fill="#000"/>
<text x="1228" y="927.6" font-size="19.4" text-anchor="middle" transform="rotate(-90 1228 927.6)" >Ø50</text>
</svg>
</body>
</html>
